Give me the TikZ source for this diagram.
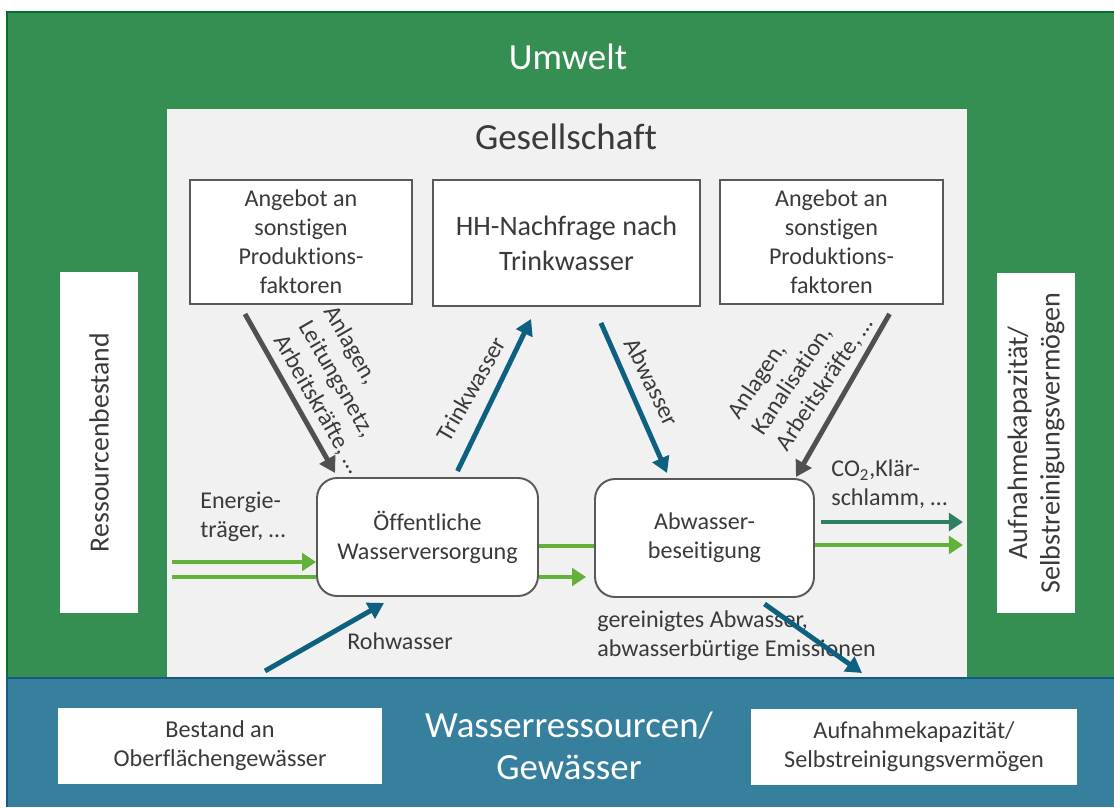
\documentclass[tikz,border=0pt]{standalone}
\usepackage{fontspec}
\setmainfont{Carlito}[Ligatures=NoCommon]
\usetikzlibrary{positioning}
\usetikzlibrary{arrows.meta}
\usetikzlibrary{calc}
\definecolor{umweltgreen}{RGB}{54,143,82}
\definecolor{umweltline}{RGB}{0,112,48}
\definecolor{gesellgray}{RGB}{240,241,240}
\definecolor{waterband}{RGB}{54,128,158}
\definecolor{waterline}{RGB}{20,90,130}
\definecolor{boxgray}{RGB}{89,89,89}
\definecolor{textgray}{RGB}{58,58,58}
\definecolor{arrowblue}{RGB}{14,96,128}
\definecolor{arrowgray}{RGB}{80,80,80}
\definecolor{flowgreen}{RGB}{98,177,57}
\definecolor{flowteal}{RGB}{47,128,96}
\tikzset{
    titletext/.style = {text=white, inner sep=0pt, align=center, font=\fontsize{21}{24}\selectfont},
    headtext/.style = {text=textgray, inner sep=0pt, font=\fontsize{21}{24}\selectfont},
    factorbox/.style = {rectangle, line width=1.1pt, draw=boxgray, fill=white, inner sep=0pt, align=center, text=textgray, minimum width=4.44cm, minimum height=2.48cm, font=\fontsize{13.7}{16.5}\selectfont},
    processbox/.style = {rectangle, rounded corners=0.4cm, line width=1.1pt, draw=boxgray, fill=white, inner sep=0pt, align=center, text=textgray, minimum width=4.4cm, minimum height=2.36cm, font=\fontsize{13.7}{16.5}\selectfont},
    sidebox/.style = {rectangle, fill=white, rotate=90, inner sep=0pt, align=center, text=textgray, minimum width=6.82cm, minimum height=1.56cm, font=\fontsize{15.8}{17.5}\selectfont},
    waterbox/.style = {rectangle, fill=white, inner sep=0pt, align=center, text=textgray, minimum height=1.52cm, font=\fontsize{13.8}{16.5}\selectfont},
    flowlabel/.style = {text=textgray, inner sep=0pt, align=left, font=\fontsize{13.7}{16.5}\selectfont},
    edgeb/.style = {-{Triangle[length=9pt,width=10pt]}, line width=2.8pt, arrowblue},
    edgeg/.style = {-{Triangle[length=9pt,width=10pt]}, line width=2.8pt, arrowgray},
    edgel/.style = {-{Triangle[length=8pt,width=10pt]}, line width=2.8pt, flowgreen},
    edgeln/.style = {line width=2.8pt, flowgreen}, % no tip
    edget/.style = {-{Triangle[length=8pt,width=10pt]}, line width=2.8pt, flowteal}
}
\begin{document}
\begin{tikzpicture}[x=0.02cm,y=-0.02cm]
\useasboundingbox (0,0) rectangle (1114,807);
%
\fill[umweltgreen] (7,12) rectangle (1114,678);
\draw[umweltline, line width=0.8pt] (7,678) -- (7,12) -- (1114,12);
\fill[gesellgray] (167,109) rectangle (967,678);
\fill[waterband] (7,678) rectangle (1114,807);
\draw[waterline, line width=0.8pt] (7,807) -- (7,678) -- (1114,678);
%
\node[titletext] at (568,57) (umwelt) {Umwelt};
\node[headtext] at (566,137) (gesellschaft) {Gesellschaft};
\node[titletext] at (569,746) (gewaesser) {Wasserressourcen/\\Gewässer};
%
\node[factorbox] at (301,242) (angebotL) {Angebot an\\sonstigen\\Produktions-\\faktoren};
\node[factorbox, minimum width=5.34cm, minimum height=2.52cm, font=\fontsize{16}{20}\selectfont] at (566.5,243) (nachfrage) {HH-Nachfrage nach\\Trinkwasser};
\node[factorbox, minimum width=4.46cm] at (831.5,242) (angebotR) {Angebot an\\sonstigen\\Produktions-\\faktoren};
%
\node[processbox, minimum width=4.42cm] at (427.5,537) (versorgung) {Öffentliche\\Wasserversorgung};
\node[processbox, minimum width=4.38cm] at (704.5,538) (beseitigung) {Abwasser-\\beseitigung};
%
\node[sidebox] at (99,442.5) (bestand) {Ressourcenbestand};
\node[sidebox, font=\fontsize{16}{18.5}\selectfont] at (1036,443) (aufnahme) {Aufnahmekapazität/\\Selbstreinigungsvermögen};
\node[waterbox, minimum width=6.48cm] at (220,746) (oberflaeche) {Bestand an\\Oberflächengewässer};
\node[waterbox, minimum width=6.52cm] at (914,747) (aufnahmeW) {Aufnahmekapazität/\\Selbstreinigungsvermögen};
%
\node[flowlabel, rotate=-60] at (343,390) (anlagenL) {Anlagen,\\Leitungsnetz,\\Arbeitskräfte, …};
\node[flowlabel, rotate=60] at (471,389) (trinkL) {Trinkwasser};
\node[flowlabel, rotate=-64] at (652,382) (abwL) {Abwasser};
\node[flowlabel, rotate=56] at (801,368) (anlagenR) {Anlagen,\\Kanalisation,\\Arbeitskräfte, …};
\node[flowlabel, anchor=west] at (200,517) (energieL) {Energie-\\träger, …};
\node[flowlabel, anchor=west] at (831,484) (co2L) {CO\textsubscript{2},Klär-\\schlamm, …};
\node[flowlabel] at (400,641) (rohL) {Rohwasser};
\node[flowlabel, anchor=west] at (597,636) (emisL) {gereinigtes Abwasser,\\abwasserbürtige Emissionen};
%
\coordinate (inTop) at (172,562);
\coordinate (inBot) at (172,577);
\coordinate (outTop) at (963,522);
\coordinate (outBot) at (963,545);
\coordinate (roh) at (265,671);
\coordinate (emis) at (862,673);
%
\draw[edgeg] ($(angebotL.south)+(-56,9)$) -- ($(versorgung.north west)+(19,-4)$);
\draw[edgeb] ($(versorgung.north)+(30,-6)$) -- ($(nachfrage.south west)+(99,12)$);
\draw[edgeb] ($(nachfrage.south east)+(-100,16)$) -- ($(beseitigung.north west)+(73,-5)$);
\draw[edgeg] ($(angebotR.south)+(58,9)$) -- ($(beseitigung.north east)+(-19,-1)$);
%
\draw[edgel] (inTop) -- ($(versorgung.west)+(0,25)$);
\draw[edgeln] (inBot) -- ($(versorgung.west)+(0,40)$);
\draw[edgeln] ($(versorgung.east)+(0,9)$) -- ($(beseitigung.west)+(0,8)$);
\draw[edgel] ($(versorgung.east)+(0,40)$) -- ($(beseitigung.west)+(-8,39)$);
\draw[edget] ($(beseitigung.east)+(6,-16)$) -- (outTop);
\draw[edgel] ($(beseitigung.east)+(0,7)$) -- (outBot);
%
\draw[edgeb] (roh) -- ($(versorgung.south west)+(68,6)$);
\draw[edgeb] ($(beseitigung.south)+(60,6)$) -- (emis);
\end{tikzpicture}
\end{document}
